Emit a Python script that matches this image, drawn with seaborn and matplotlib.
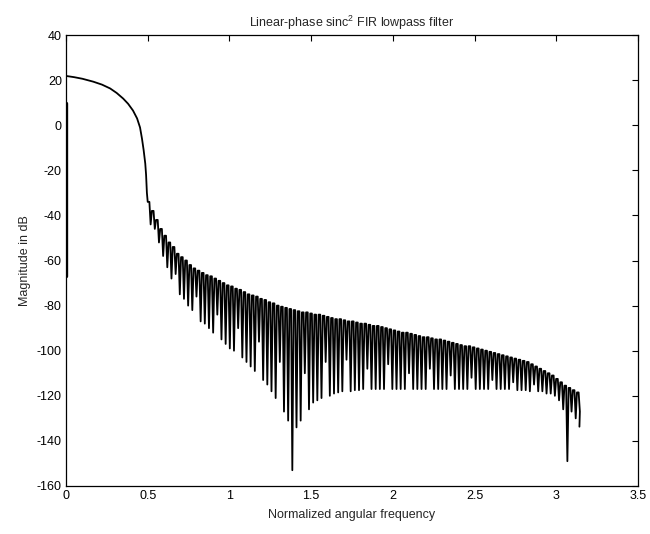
import numpy as np
import pandas as pd
import matplotlib
matplotlib.use("Agg")
import matplotlib.pyplot as plt
import seaborn as sns

# ---------------- data ----------------
# vertical stroke at omega = 0 (first sample)
edge_freq = [0.0, 0.0]
edge_db = [10.0, -67.0]

# smooth passband / transition
pass_freq = [0.004, 0.05, 0.10, 0.167, 0.22, 0.27, 0.31, 0.35, 0.38, 0.41,
             0.435, 0.453, 0.465, 0.475, 0.485, 0.490, 0.495, 0.500]
pass_db = [21.8, 21.3, 20.6, 19.3, 18.0, 16.3, 14.3, 11.8, 9.5, 6.5,
           3.0, -1.0, -6.0, -11.0, -17.0, -22.0, -30.0, -34.0]

# stopband ripple: one peak and one null per ripple cycle
ripple_start = 0.500
ripple_step = 0.0255
ripple_top = [
    -34, -38, -42, -46, -49, -52, -54, -57, -58.5, -60,
    -62, -63.5, -64.5, -65.5, -66.5, -67, -68, -69, -70, -71,
    -71.5, -72.5, -73, -74, -75, -75.5, -76, -77, -77.5, -78.5,
    -79, -80, -80.5, -81, -81.5, -82, -82.5, -83, -83, -83.5,
    -84, -84, -84.5, -85, -85.5, -86, -86, -86.5, -87, -87,
    -87.5, -88, -88, -88.5, -89, -89, -89.5, -90, -90.5, -91,
    -91.5, -92, -92, -92.5, -93, -93.5, -94, -94, -94.5, -95,
    -95, -95.5, -96, -96.5, -97, -97.5, -98, -98, -98.5, -99,
    -99.5, -100, -100.5, -101, -101.5, -102, -102.5, -103, -103.5, -104,
    -104.5, -105, -106, -107, -108, -109, -110, -111, -112.5, -114,
    -115.5, -116.5, -117.5, -118.5]
ripple_null = [
    -44, -46, -52, -58, -63, -68, -66, -75, -77, -80,
    -82, -76, -87, -88, -90, -92, -84, -95, -97, -99,
    -100, -90, -103, -105, -107, -109, -96, -113, -115, -118,
    -121, -105, -127, -131, -153, -134, -131, -110, -126, -123,
    -122, -121, -105, -120, -119, -118.5, -118, -104, -118, -117.5,
    -117.5, -117, -108, -117, -117, -117, -117, -106, -117, -117,
    -117, -117, -110, -117, -117, -117, -117, -108, -117, -117,
    -117, -117, -111, -117, -117, -117, -117, -112, -117, -117,
    -117, -117, -113, -117, -117, -117, -117, -114, -117.5, -117.5,
    -117.5, -118, -115, -118, -118, -119, -119, -120, -122, -126,
    -149, -127, -130, -127]
end_freq = 3.1416
end_db = -133.7

xticks = [0, 0.5, 1, 1.5, 2, 2.5, 3, 3.5]
yticks = [40, 20, 0, -20, -40, -60, -80, -100, -120, -140, -160]
title = "Linear-phase sinc$^2$ FIR lowpass filter"
xlabel = "Normalized angular frequency"
ylabel = "Magnitude in dB"

# ---------------- build the plotted sequence ----------------
n = len(ripple_top)
cycle_f = ripple_start + ripple_step * np.arange(n)
seq_f, seq_db = list(pass_freq), list(pass_db)
for f, t, d in zip(cycle_f, ripple_top, ripple_null):
    seq_f += [f, f + 0.40 * ripple_step, f + 0.70 * ripple_step]
    seq_db += [t, t, d]
seq_f.append(end_freq)
seq_db.append(end_db)
df = pd.DataFrame({"freq": seq_f, "db": seq_db})
edge_df = pd.DataFrame({"freq": edge_freq, "db": edge_db})

# ---------------- drawing ----------------
sns.set_style("white")
plt.rcParams["font.family"] = ["Liberation Sans", "DejaVu Sans"]
plt.rcParams["mathtext.default"] = "regular"

fig = plt.figure(figsize=(6.5, 5.34), dpi=100)
ax = fig.add_axes([66 / 650, 1 - 486 / 534, 572 / 650, 451 / 534])

sns.lineplot(data=df, x="freq", y="db", sort=False, estimator=None,
             color="black", linewidth=1.3, ax=ax)
sns.lineplot(data=edge_df, x="freq", y="db", sort=False, estimator=None,
             color="black", linewidth=2.4, ax=ax)

ax.set_xlim(0, 3.5)
ax.set_ylim(-160, 40)
ax.set_xticks(xticks)
ax.set_xticklabels([f"{t:g}" for t in xticks])
ax.set_yticks(yticks)
ax.set_yticklabels([f"{t:g}" for t in yticks])
ax.tick_params(direction="in", length=4, width=0.8, top=True, right=True,
               labelsize=9, colors="black", pad=3)
for s in ax.spines.values():
    s.set_visible(True)
    s.set_color("black")
    s.set_linewidth(0.9)
ax.set_title(title, fontsize=9, pad=6)
ax.set_xlabel(xlabel, fontsize=9, labelpad=5)
ax.set_ylabel(ylabel, fontsize=9, labelpad=4)
ax.grid(False)

fig.savefig("out.png", dpi=100, facecolor="white")
